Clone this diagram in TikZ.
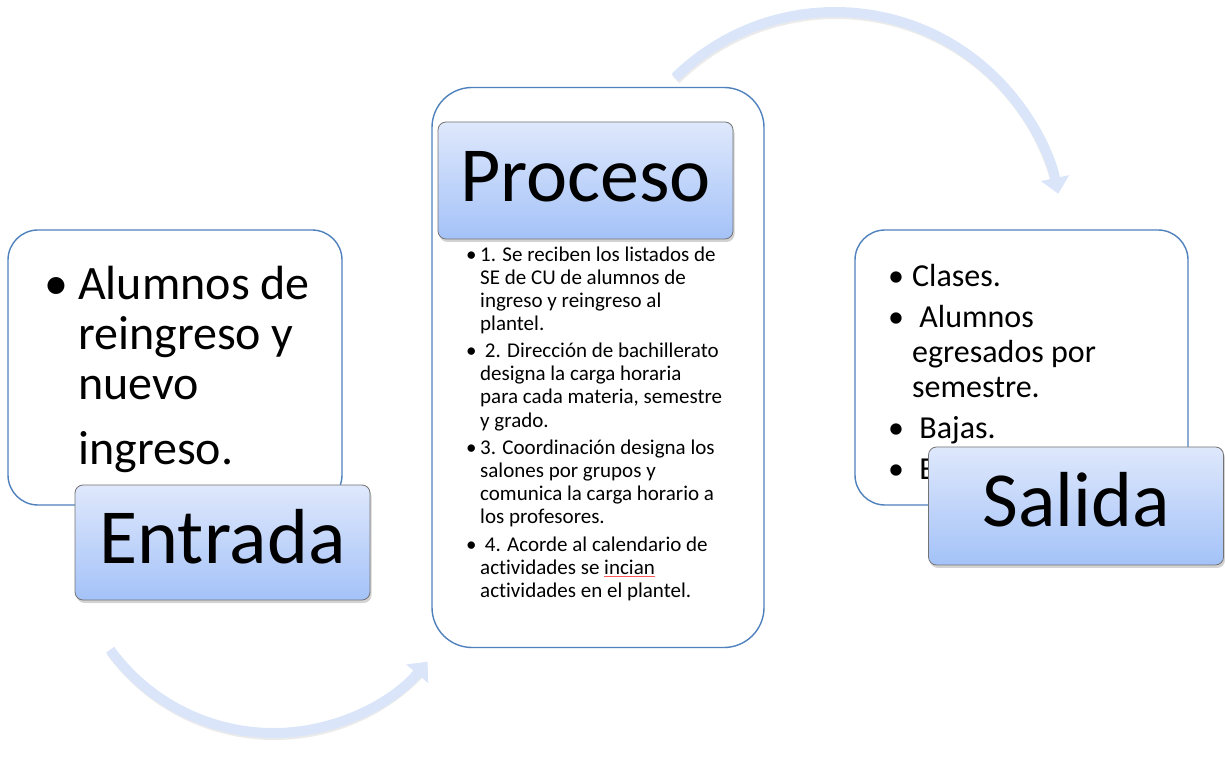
\documentclass[tikz,border=0pt]{standalone}
\usepackage{fontspec}
\setmainfont{Carlito}[Ligatures=NoCommon]
\usetikzlibrary{arrows.meta,shadows,calc}
\definecolor{marco}{RGB}{79,129,189}
\definecolor{tituloA}{RGB}{223,232,252}
\definecolor{tituloB}{RGB}{164,194,248}
\definecolor{flecha}{RGB}{218,229,250}
\newcommand\ondita[1]{\setbox0\hbox{#1}\rlap{\textcolor{red!65}{\rule[-3pt]{\wd0}{0.6pt}}}\box0}
\newcommand\bul[1]{\makebox[#1][l]{•}}
\begin{document}
\begin{tikzpicture}[x=1pt, y=1pt, line join=round,
	caja/.style={draw=marco, line width=1.4pt, fill=white, inner sep=0pt},
	titulo/.style={draw=black!55, line width=0.8pt, rounded corners=8pt,
		top color=tituloA, bottom color=tituloB, inner sep=0pt,
		drop shadow={shadow xshift=1.5pt, shadow yshift=-3pt, opacity=0.35},
		minimum width=295pt, text height=42pt, text depth=0pt, font=\fontsize{78}{78}\selectfont},
	flujo/.style={draw=flecha, line width=10pt, -{Triangle[length=16pt,width=28pt]}},
	sombra/.style={draw=black!20, line width=10pt, opacity=0.4}]
	\def\rA{228} \def\rB{202} % radios de las flechas
	\useasboundingbox (0,0) rectangle (1225,763);
	% cajas de contenido
	\node[caja, rounded corners=30pt, minimum width=334pt, minimum height=275pt] (cEntrada) at (175,395.5) {};
	\node[caja, rounded corners=40pt, minimum width=332pt, minimum height=560pt] (cProceso) at (598,395.5) {};
	\node[caja, rounded corners=30pt, minimum width=333pt, minimum height=275pt] (cSalida) at (1021.5,395.5) {};
	% textos (base = ultima linea)
	\node[anchor=base west, align=left, inner sep=0pt, font=\fontsize{48}{50}\selectfont] (tEntrada) at (44,298)
		{\bul{34pt}Alumnos de\\ \hspace*{34pt}reingreso y\\ \hspace*{34pt}nuevo\\[15pt] \hspace*{34pt}ingreso.};
	\node[anchor=base west, align=left, inner sep=0pt, font=\fontsize{21}{23}\selectfont] (tProceso) at (466,166)
		{\bul{14pt}1. Se reciben los listados de\\ \hspace*{14pt}SE de CU de alumnos de\\
		\hspace*{14pt}ingreso y reingreso al\\ \hspace*{14pt}plantel.\\[4.5pt]
		\bul{14pt}\ 2. Dirección de bachillerato\\ \hspace*{14pt}designa la carga horaria\\
		\hspace*{14pt}para cada materia, semestre\\ \hspace*{14pt}y grado.\\[4.5pt]
		\bul{14pt}3. Coordinación designa los\\ \hspace*{14pt}salones por grupos y\\
		\hspace*{14pt}comunica la carga horario a\\ \hspace*{14pt}los profesores.\\[4.5pt]
		\bul{14pt}\ 4. Acorde al calendario de\\ \hspace*{14pt}actividades se \ondita{incian}\\
		\hspace*{14pt}actividades en el plantel.};
	\node[anchor=base west, align=left, inner sep=0pt, font=\fontsize{32}{35}\selectfont] (tSalida) at (888,283)
		{\bul{24pt}Clases.\\[6pt] \bul{24pt}\ Alumnos\\ \hspace*{24pt}egresados por\\ \hspace*{24pt}semestre.\\[6pt]
		\bul{24pt}\ Bajas.\\[6pt] \bul{24pt}\ E};
	% titulos
	\node[titulo, minimum height=115pt] (Entrada) at (222.5,220.5) {Entrada};
	\node[titulo, minimum height=117pt] (Proceso) at (585.5,582.5) {Proceso};
	\node[titulo, minimum height=118pt] (Salida) at (1076,257) {Salida};
	% flechas curvas
	\coordinate (iniA) at ($(835,523)+(134.6:\rA)$);
	\coordinate (iniB) at ($(273.5,232)+(216:\rB)$);
	\draw[sombra] ([shift={(1,-2)}]iniA) arc[start angle=134.6, end angle=14, radius=\rA];
	\draw[flujo] (iniA) arc[start angle=134.6, end angle=11.7, radius=\rA];
	\draw[sombra] ([shift={(1,-2)}]iniB) arc[start angle=216, end angle=317, radius=\rB];
	\draw[flujo] (iniB) arc[start angle=216, end angle=319.7, radius=\rB];
\end{tikzpicture}
\end{document}
